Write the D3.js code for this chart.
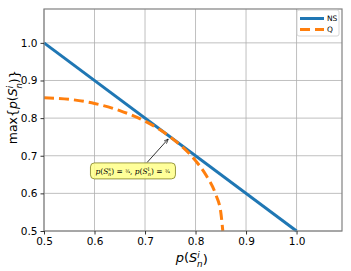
<!DOCTYPE html>
<html>
<head>
<meta charset="utf-8">
<script src="https://cdn.jsdelivr.net/npm/d3@7"></script>
<style>
  body { margin: 0; background: #fff; }
  text { font-family: "DejaVu Sans", sans-serif; }
</style>
</head>
<body>
<div id="chart"></div>
<script>
const svgWidth = 351;
const svgHeight = 271;

let margin = { top: 9, right: 9, bottom: 40, left: 44 };
let width = svgWidth - margin.left - margin.right;
let height = svgHeight - margin.top - margin.bottom;

// data
const nsX = [0.5, 1.0];
const nsY = [1.0, 0.5];
const qX = [0.5, 0.55, 0.6, 0.65, 0.7, 0.75, 0.8, 0.82, 0.84, 0.85, 0.854];
const qY = [0.854, 0.85, 0.839, 0.82, 0.792, 0.75, 0.687, 0.65, 0.597, 0.55, 0.5];
const tickVals = [0.5, 0.6, 0.7, 0.8, 0.9, 1.0];
const seriesNames = ['NS', 'Q'];
const seriesColors = ['#1f77b4', '#ff7f0e'];

let svg = d3.select('#chart').append('svg')
  .attr('width', svgWidth)
  .attr('height', svgHeight);

let chartGroup = svg.append('g')
  .attr('transform', `translate(${margin.left}, ${margin.top})`);

let x = d3.scaleLinear().domain([0.5, 1.09]).range([0, width]);
let y = d3.scaleLinear().domain([0.5, 1.09]).range([height, 0]);

// grid
chartGroup.append('g').selectAll('line')
  .data(tickVals).enter().append('line')
  .attr('x1', d => x(d)).attr('x2', d => x(d))
  .attr('y1', 0).attr('y2', height)
  .attr('stroke', '#b0b0b0').attr('stroke-width', 0.8);
chartGroup.append('g').selectAll('line')
  .data(tickVals).enter().append('line')
  .attr('y1', d => y(d)).attr('y2', d => y(d))
  .attr('x1', 0).attr('x2', width)
  .attr('stroke', '#b0b0b0').attr('stroke-width', 0.8);

// lines
let line = d3.line().x(d => x(d[0])).y(d => y(d[1]));
chartGroup.append('path')
  .datum(nsX.map((v, i) => [v, nsY[i]]))
  .attr('d', line)
  .attr('fill', 'none')
  .attr('stroke', seriesColors[0])
  .attr('stroke-width', 3);
chartGroup.append('path')
  .datum(qX.map((v, i) => [v, qY[i]]))
  .attr('d', line.curve(d3.curveMonotoneX))
  .attr('fill', 'none')
  .attr('stroke', seriesColors[1])
  .attr('stroke-width', 3)
  .attr('stroke-dasharray', '10,5');

// frame
chartGroup.append('rect')
  .attr('width', width).attr('height', height)
  .attr('fill', 'none')
  .attr('stroke', '#808080').attr('stroke-width', 1.2);

// axes
let xAxis = chartGroup.append('g')
  .attr('transform', `translate(0,${height})`)
  .call(d3.axisBottom(x).tickValues(tickVals).tickFormat(d3.format('.1f')).tickSize(3.5));
let yAxis = chartGroup.append('g')
  .call(d3.axisLeft(y).tickValues(tickVals).tickFormat(d3.format('.1f')).tickSize(3.5));
[xAxis, yAxis].forEach(a => {
  a.select('.domain').remove();
  a.selectAll('line').attr('stroke', '#333');
  a.selectAll('text').attr('font-size', 10.5).attr('fill', '#000')
    .style('font-family', '"DejaVu Sans", sans-serif');
});

// math-ish label p(S_n^i)
function pLabel(t, prefix, suffix) {
  if (prefix) t.append('tspan').text(prefix);
  t.append('tspan').attr('font-style', 'italic').text('p');
  t.append('tspan').text('(');
  t.append('tspan').attr('font-style', 'italic').text('S');
  t.append('tspan').attr('font-style', 'italic').attr('font-size', '0.68em').attr('dy', '-0.45em').text('i');
  t.append('tspan').attr('font-style', 'italic').attr('font-size', '0.68em').attr('dy', '1em').attr('dx', '-0.3em').text('n');
  t.append('tspan').attr('dy', '-0.23em').text(')' + (suffix || ''));
}

// axis labels (anchored by measured width)
let xl = svg.append('text').attr('font-size', 13);
pLabel(xl);
let xw = xl.node().getComputedTextLength();
xl.attr('x', margin.left + width / 2 - xw / 2).attr('y', 262);

let yl = svg.append('text').attr('font-size', 12.5);
pLabel(yl, 'max{', '}');
let yw = yl.node().getComputedTextLength();
yl.attr('transform', `translate(17,${106 + yw / 2})rotate(-90)`);

// annotation
let px = x(0.75), py = y(0.75);
svg.append('defs').append('marker')
  .attr('id', 'arr').attr('viewBox', '0 0 10 10')
  .attr('refX', 10).attr('refY', 5)
  .attr('markerWidth', 6).attr('markerHeight', 6)
  .attr('orient', 'auto')
  .append('path').attr('d', 'M0,1 L10,5 L0,9').attr('fill', 'none').attr('stroke', '#000').attr('stroke-width', 1.3);
chartGroup.append('line')
  .attr('x1', x(0.704)).attr('y1', y(0.682))
  .attr('x2', px - 2).attr('y2', py + 2)
  .attr('stroke', '#000').attr('stroke-width', 0.8)
  .attr('marker-end', 'url(#arr)');
let box = chartGroup.append('g').attr('transform', `translate(${x(0.592)},${y(0.681)})`);
box.append('rect')
  .attr('width', 85).attr('height', 16).attr('rx', 4)
  .attr('fill', '#ffff88').attr('fill-opacity', 0.85)
  .attr('stroke', '#7f7f20').attr('stroke-width', 0.8);
let at = box.append('text').attr('x', 5).attr('y', 11)
  .attr('font-size', 7.5)
  .style('font-family', '"DejaVu Serif", serif');
at.append('tspan').attr('font-style', 'italic').text('p');
at.append('tspan').text('(');
at.append('tspan').attr('font-style', 'italic').text('S');
at.append('tspan').attr('font-size', 5).attr('dy', -3).text('s');
at.append('tspan').attr('font-size', 5).attr('dy', 5).attr('dx', -3).attr('font-style', 'italic').text('n');
at.append('tspan').attr('dy', -2).text(') = ');
at.append('tspan').attr('font-size', 5).attr('dy', -1).text('¾');
at.append('tspan').attr('dy', 1).text(', ');
at.append('tspan').attr('font-style', 'italic').text('p');
at.append('tspan').text('(');
at.append('tspan').attr('font-style', 'italic').text('S');
at.append('tspan').attr('font-size', 5).attr('dy', -3).text('l');
at.append('tspan').attr('font-size', 5).attr('dy', 5).attr('dx', -1.5).attr('font-style', 'italic').text('n');
at.append('tspan').attr('dy', -2).text(') = ');
at.append('tspan').attr('font-size', 5).attr('dy', -1).text('¾');

// legend
let legend = chartGroup.append('g').attr('transform', `translate(${width - 45},1)`);
legend.append('rect')
  .attr('width', 42).attr('height', 26).attr('rx', 2)
  .attr('fill', '#fff').attr('fill-opacity', 0.8)
  .attr('stroke', '#ccc').attr('stroke-width', 0.8);
seriesNames.forEach((name, i) => {
  legend.append('line')
    .attr('x1', 3).attr('x2', 27)
    .attr('y1', 8.5 + i * 11).attr('y2', 8.5 + i * 11)
    .attr('stroke', seriesColors[i]).attr('stroke-width', 3)
    .attr('stroke-dasharray', i === 1 ? '10,5' : null);
  legend.append('text')
    .attr('x', 30).attr('y', 11 + i * 11)
    .attr('font-size', 7.5)
    .text(name);
});
</script>
</body>
</html>
